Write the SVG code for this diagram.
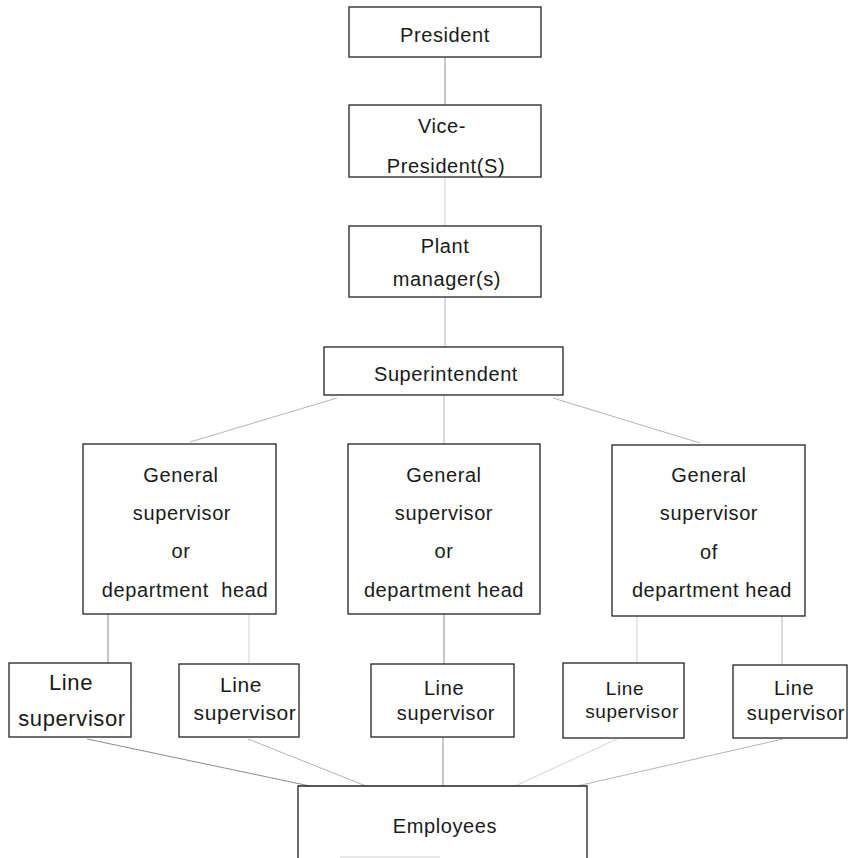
<svg xmlns="http://www.w3.org/2000/svg" width="848" height="858" viewBox="0 0 848 858">
  <style>
    .box { fill: #ffffff; stroke: #222222; stroke-width: 1.3; }
    .lbl { font-family: "Liberation Sans", Arial, sans-serif; font-size: 20px; fill: #1a1a1a; text-anchor: middle; letter-spacing: 0.6px; }
    .c1 { stroke: #8c8c8c; stroke-width: 1; fill: none; }
    .c2 { stroke: #b4b4b4; stroke-width: 1; fill: none; }
    .c3 { stroke: #d2d2d2; stroke-width: 1; fill: none; }
  </style>
  <rect width="848" height="858" fill="#ffffff"/>

  <!-- reporting lines -->
  <g id="connectors">
    <line class="c1" x1="445" y1="57" x2="445" y2="105"/>
    <line class="c3" x1="445" y1="177" x2="445" y2="226"/>
    <line class="c2" x1="445" y1="297" x2="445" y2="347"/>
    <line class="c2" x1="444" y1="395" x2="444" y2="444"/>
    <line class="c2" x1="337" y1="398" x2="190" y2="442"/>
    <line class="c2" x1="553" y1="398" x2="700" y2="443"/>
    <line class="c1" x1="108" y1="614" x2="108" y2="663"/>
    <line class="c3" x1="249" y1="614" x2="249" y2="663"/>
    <line class="c1" x1="444" y1="614" x2="444" y2="664"/>
    <line class="c3" x1="637" y1="616" x2="637" y2="663"/>
    <line class="c2" x1="782" y1="616" x2="782" y2="665"/>
    <line class="c1" x1="87" y1="739" x2="310" y2="786"/>
    <line class="c2" x1="248" y1="739" x2="366" y2="786"/>
    <line class="c1" x1="443" y1="737" x2="443" y2="786"/>
    <line class="c3" x1="617" y1="739" x2="515" y2="786"/>
    <line class="c2" x1="783" y1="739" x2="577" y2="786"/>
  </g>

  <g id="president">
    <rect class="box" x="349" y="7" width="192" height="50"/>
    <text class="lbl" x="445" y="42">President</text>
  </g>

  <g id="vice-president">
    <rect class="box" x="349" y="105" width="192" height="72"/>
    <text class="lbl" x="442" y="133">Vice-</text>
    <text class="lbl" x="446" y="173">President(S)</text>
  </g>

  <g id="plant-manager">
    <rect class="box" x="349" y="226" width="192" height="71"/>
    <text class="lbl" x="445" y="253">Plant</text>
    <text class="lbl" x="447" y="286">manager(s)</text>
  </g>

  <g id="superintendent">
    <rect class="box" x="324" y="347" width="239" height="48"/>
    <text class="lbl" x="446" y="381">Superintendent</text>
  </g>

  <g id="general-left">
    <rect class="box" x="83" y="444" width="193" height="170"/>
    <text class="lbl" x="181" y="482">General</text>
    <text class="lbl" x="182" y="520">supervisor</text>
    <text class="lbl" x="181" y="558">or</text>
    <text class="lbl" x="185" y="597" xml:space="preserve">department  head</text>
  </g>

  <g id="general-middle">
    <rect class="box" x="348" y="444" width="192" height="170"/>
    <text class="lbl" x="444" y="482">General</text>
    <text class="lbl" x="444" y="520">supervisor</text>
    <text class="lbl" x="444" y="558">or</text>
    <text class="lbl" x="444" y="597">department head</text>
  </g>

  <g id="general-right">
    <rect class="box" x="612" y="445" width="193" height="171"/>
    <text class="lbl" x="709" y="482">General</text>
    <text class="lbl" x="709" y="520">supervisor</text>
    <text class="lbl" x="709" y="559">of</text>
    <text class="lbl" x="712" y="597">department head</text>
  </g>

  <g id="line-supervisor-1">
    <rect class="box" x="9" y="663" width="122" height="74"/>
    <text class="lbl" x="71" y="690" style="font-size:22px">Line</text>
    <text class="lbl" x="72" y="726" style="font-size:22px">supervisor</text>
  </g>

  <g id="line-supervisor-2">
    <rect class="box" x="179" y="664" width="120" height="73"/>
    <text class="lbl" x="241" y="692" style="font-size:21px">Line</text>
    <text class="lbl" x="245" y="720" style="font-size:21px">supervisor</text>
  </g>

  <g id="line-supervisor-3">
    <rect class="box" x="371" y="664" width="143" height="73"/>
    <text class="lbl" x="444" y="695">Line</text>
    <text class="lbl" x="446" y="720">supervisor</text>
  </g>

  <g id="line-supervisor-4">
    <rect class="box" x="563" y="663" width="121" height="75"/>
    <text class="lbl" x="625" y="695" style="font-size:19px">Line</text>
    <text class="lbl" x="632" y="718" style="font-size:19px">supervisor</text>
  </g>

  <g id="line-supervisor-5">
    <rect class="box" x="733" y="665" width="114" height="73"/>
    <text class="lbl" x="794" y="695">Line</text>
    <text class="lbl" x="796" y="720">supervisor</text>
  </g>

  <g id="employees">
    <path class="box" d="M298,858 V786 H587 V858"/>
    <line x1="340" y1="857" x2="440" y2="857" stroke="#cfcfcf" stroke-width="1"/>
    <text class="lbl" x="445" y="833">Employees</text>
  </g>
</svg>
